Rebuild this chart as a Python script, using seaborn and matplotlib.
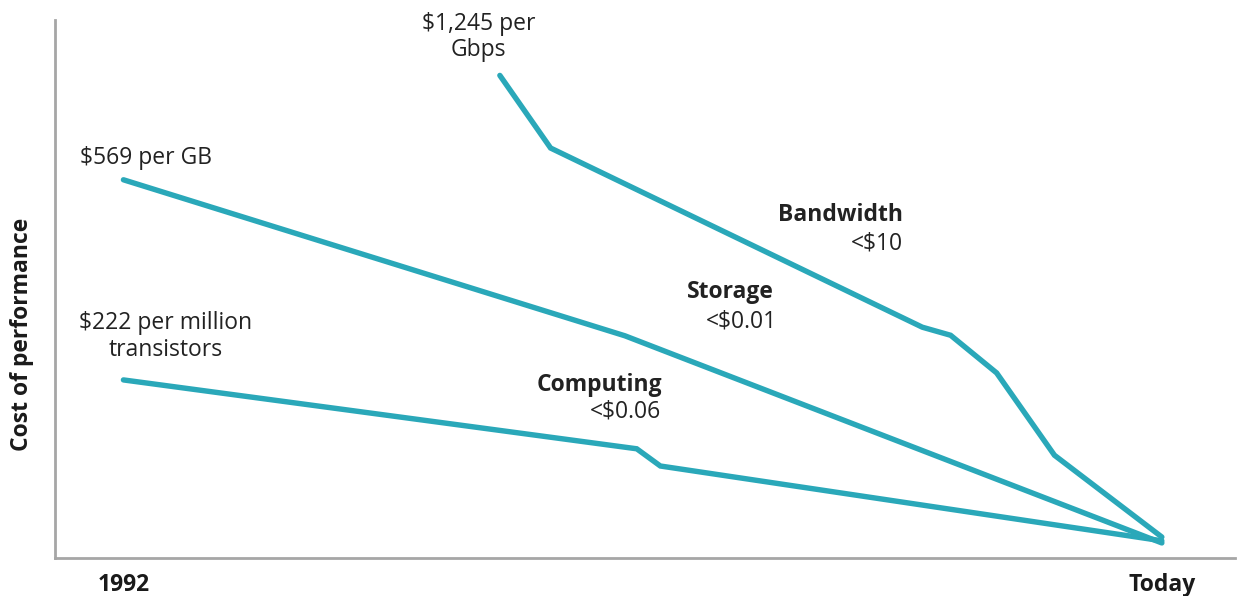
import numpy as np
import pandas as pd
import matplotlib
matplotlib.use("Agg")
import matplotlib.pyplot as plt
import seaborn as sns

# relative position along the time axis (0 = 1992, 100 = today) and relative cost
bandwidth_x = [37.7, 42.0, 73.5, 75.9, 79.8, 84.7, 93.8]
bandwidth_y = [89.7, 76.2, 42.9, 41.4, 34.4, 19.1, 3.9]
storage_x = [5.8, 48.3, 93.8]
storage_y = [70.3, 41.3, 2.8]
computing_x = [5.8, 49.3, 51.3, 93.8]
computing_y = [33.1, 20.3, 17.1, 3.2]

tick_pos = [5.8, 93.8]
tick_labels = ["1992", "Today"]

teal = "#2aa8b9"

sns.set_theme(style="white")
plt.rcParams["font.family"] = ["Open Sans", "DejaVu Sans"]

fig = plt.figure(figsize=(12.38, 5.96), dpi=100)
ax = fig.add_axes([55 / 1238, 1 - 558 / 596, 1180 / 1238, 538 / 596])

for xs, ys in [(bandwidth_x, bandwidth_y), (storage_x, storage_y), (computing_x, computing_y)]:
    sns.lineplot(x=xs, y=ys, sort=False, estimator=None, color=teal, linewidth=3.9, ax=ax,
                 solid_joinstyle="miter", solid_capstyle="round")

ax.set_xlim(0, 100)
ax.set_ylim(0, 100)

for side in ["top", "right"]:
    ax.spines[side].set_visible(False)
for side in ["left", "bottom"]:
    ax.spines[side].set_color("#a6a6a6")
    ax.spines[side].set_linewidth(2)

fs = 16.5
ax.set_xticks(tick_pos)
ax.set_xticklabels(tick_labels, fontweight="bold", fontsize=fs, color="#1a1a1a")
ax.tick_params(axis="x", length=0, pad=10.5)
ax.set_yticks([])
ax.set_ylabel("Cost of performance", fontweight="bold", fontsize=fs, color="#1a1a1a")
ax.yaxis.set_label_coords(-0.018, 0.416)

txt = dict(fontsize=fs, color="#222222")
ax.text(35.9, 96.9, "$1,245 per\nGbps", ha="center", va="center", linespacing=1.13, **txt)
ax.text(2.1, 74.4, "$569 per GB", ha="left", va="center", **txt)
ax.text(9.4, 41.2, "$222 per million\ntransistors", ha="center", va="center", linespacing=1.13, **txt)

ax.text(71.9, 63.7, "Bandwidth", ha="right", va="center", fontweight="bold", **txt)
ax.text(71.9, 58.4, "<$10", ha="right", va="center", **txt)
ax.text(60.9, 49.5, "Storage", ha="right", va="center", fontweight="bold", **txt)
ax.text(61.2, 43.9, "<$0.01", ha="right", va="center", **txt)
ax.text(51.5, 32.2, "Computing", ha="right", va="center", fontweight="bold", **txt)
ax.text(51.4, 27.2, "<$0.06", ha="right", va="center", **txt)

fig.savefig("out.png", dpi=100)
